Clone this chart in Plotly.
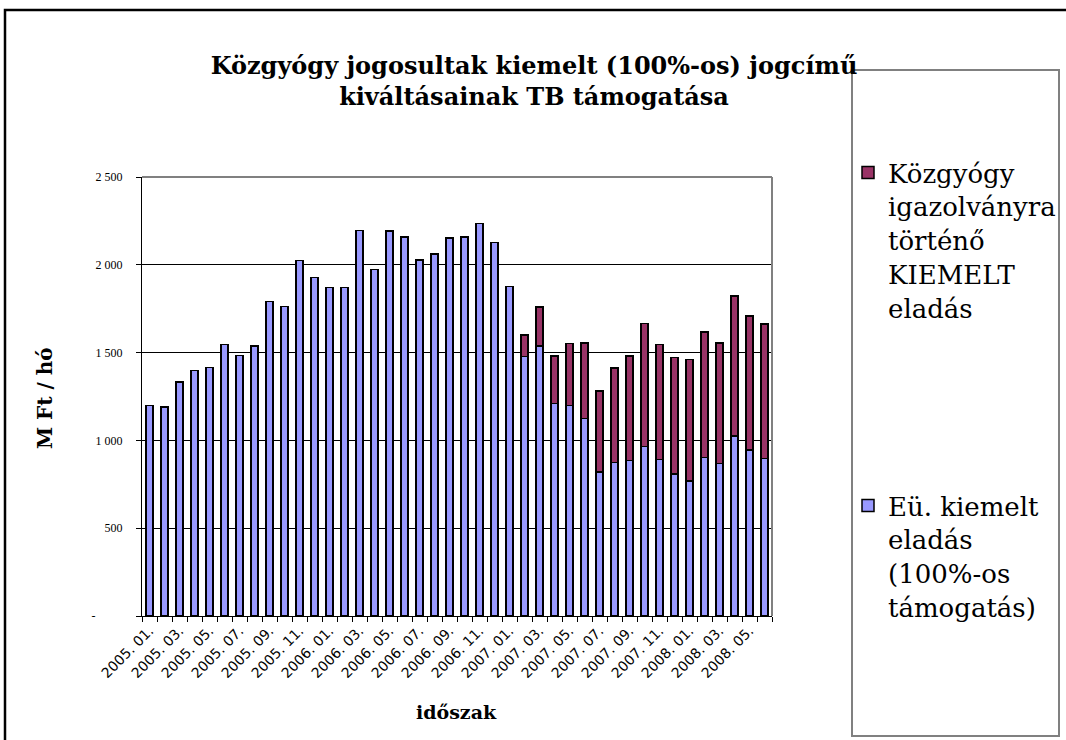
import plotly.graph_objects as go

months = [
    "2005. 01.", "2005. 02.", "2005. 03.", "2005. 04.", "2005. 05.", "2005. 06.",
    "2005. 07.", "2005. 08.", "2005. 09.", "2005. 10.", "2005. 11.", "2005. 12.",
    "2006. 01.", "2006. 02.", "2006. 03.", "2006. 04.", "2006. 05.", "2006. 06.",
    "2006. 07.", "2006. 08.", "2006. 09.", "2006. 10.", "2006. 11.", "2006. 12.",
    "2007. 01.", "2007. 02.", "2007. 03.", "2007. 04.", "2007. 05.", "2007. 06.",
    "2007. 07.", "2007. 08.", "2007. 09.", "2007. 10.", "2007. 11.", "2007. 12.",
    "2008. 01.", "2008. 02.", "2008. 03.", "2008. 04.", "2008. 05.", "2008. 06.",
]

# Eü. kiemelt eladás (100%-os támogatás)
eu_kiemelt = [
    1198, 1190, 1334, 1399, 1416, 1547, 1483, 1538, 1790, 1763, 2024, 1927,
    1870, 1872, 2196, 1974, 2192, 2158, 2027, 2061, 2153, 2158, 2236, 2128,
    1877, 1477, 1538, 1211, 1198, 1124, 820, 875, 885, 964, 892, 809,
    769, 904, 869, 1025, 945, 896,
]

# Közgyógy igazolványra történő KIEMELT eladás
kozgyogy = [
    0, 0, 0, 0, 0, 0, 0, 0, 0, 0, 0, 0,
    0, 0, 0, 0, 0, 0, 0, 0, 0, 0, 0, 0,
    0, 123, 222, 270, 355, 431, 461, 537, 596, 703, 655, 662,
    693, 713, 687, 797, 763, 767,
]

y_tickvals = [0, 500, 1000, 1500, 2000, 2500]
y_ticktext = ["-" + "\u00a0" * 9, "500", "1 000", "1 500", "2 000", "2 500"]

x_ticktext = [m if i % 2 == 0 else "" for i, m in enumerate(months)]

title_text = "Közgyógy jogosultak kiemelt (100%-os) jogcímű<br>kiváltásainak TB támogatása"
name_eu = "Eü. kiemelt<br>eladás<br>(100%-os<br>támogatás)"
name_kg = "Közgyógy<br>igazolványra<br>történő<br>KIEMELT<br>eladás"

W, H = 1066, 740
# plot area in page pixels
L, R, T, B = 142, 772, 177, 616


def px_x(p):
    return (p - L) / (R - L)


def px_y(p):
    return (B - p) / (B - T)


fig = go.Figure()
fig.add_bar(
    x=months, y=eu_kiemelt, name=name_eu,
    marker=dict(color="#9999FF", line=dict(color="black", width=1.5)),
    legend="legend2",
)
fig.add_bar(
    x=months, y=kozgyogy, name=name_kg,
    marker=dict(color="#993366", line=dict(color="black", width=1.5)),
    legend="legend",
)

fig.update_layout(
    width=W, height=H, autosize=False,
    margin=dict(l=L, r=W - R, t=T, b=H - B, autoexpand=False),
    barmode="stack", bargap=0.53,
    plot_bgcolor="white", paper_bgcolor="white",
    title=dict(
        text=title_text, xref="paper", x=px_x(534), xanchor="center",
        yref="container", y=1 - 74 / H, yanchor="top",
        font=dict(family="DejaVu Serif", size=24, color="black", weight="bold"),
    ),
    xaxis=dict(
        type="category", tickvals=months, ticktext=x_ticktext, tickangle=-45,
        tickson="boundaries", ticks="outside", ticklen=5, tickcolor="black",
        showline=True, linecolor="black", linewidth=1, showgrid=False,
        tickfont=dict(family="DejaVu Sans", size=14, color="black"),
        automargin=False,
    ),
    yaxis=dict(
        range=[0, 2500], tickvals=y_tickvals, ticktext=y_ticktext,
        ticks="outside", ticklen=5, tickcolor="black",
        showline=True, linecolor="black", linewidth=1,
        showgrid=True, gridcolor="black", gridwidth=1,
        tickfont=dict(family="Liberation Serif", size=12, color="black"),
        ticklabelstandoff=11, automargin=False, zeroline=False,
    ),
    legend=dict(
        x=px_x(848), y=px_y(149), xanchor="left", yanchor="top",
        valign="top", bgcolor="rgba(0,0,0,0)",
        font=dict(family="DejaVu Serif", size=26, color="black"),
    ),
    legend2=dict(
        x=px_x(848), y=px_y(482), xanchor="left", yanchor="top",
        valign="top", bgcolor="rgba(0,0,0,0)",
        font=dict(family="DejaVu Serif", size=26, color="black"),
    ),
    showlegend=True,
    shapes=[
        # outer chart border
        dict(type="rect", xref="paper", yref="paper",
             x0=px_x(5), x1=px_x(1090), y0=px_y(770), y1=px_y(10),
             line=dict(color="black", width=2.5), layer="below"),
        # legend box
        dict(type="rect", xref="paper", yref="paper",
             x0=px_x(852), x1=px_x(1059), y0=px_y(736), y1=px_y(70),
             line=dict(color="#808080", width=2), fillcolor="white", layer="below"),
        # plot-area top and right border
        dict(type="line", xref="paper", yref="paper", x0=0, x1=1, y0=1, y1=1,
             line=dict(color="#808080", width=2)),
        dict(type="line", xref="paper", yref="paper", x0=1, x1=1, y0=0, y1=1,
             line=dict(color="#808080", width=2)),
    ],
    annotations=[
        dict(text="<b>M Ft / hó</b>", xref="paper", yref="paper",
             x=px_x(45), y=px_y(398), textangle=-90, showarrow=False,
             xanchor="center", yanchor="middle",
             font=dict(family="DejaVu Serif", size=20, color="black")),
        dict(text="<b>időszak</b>", xref="paper", yref="paper",
             x=px_x(456), y=px_y(712), showarrow=False,
             xanchor="center", yanchor="middle",
             font=dict(family="DejaVu Serif", size=19, color="black")),
    ],
)

fig.write_html(
    "out.html",
    config={"displayModeBar": False, "responsive": False},
    post_script=(
        "document.documentElement.style.overflow='hidden';"
        "document.body.style.margin='0';"
        "document.body.style.overflow='hidden';"
    ),
)
